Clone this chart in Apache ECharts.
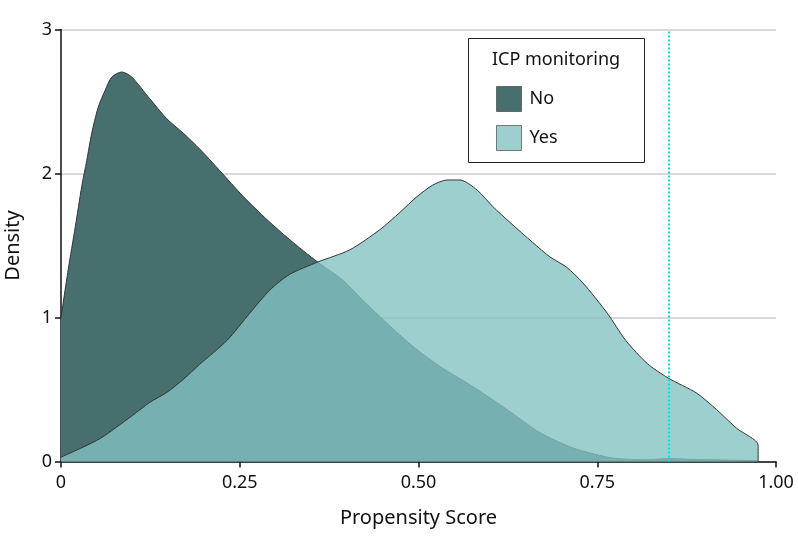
<!DOCTYPE html>
<html>
<head>
<meta charset="utf-8">
<script src="https://cdn.jsdelivr.net/npm/echarts@6/dist/echarts.min.js"></script>
<style>html,body{margin:0;padding:0;background:#fff}#c{width:798px;height:547px}</style>
</head>
<body>
<div id="c"></div>
<script>
var xTicks = [0, 0.25, 0.5, 0.75, 1.0];
var yTicks = [0, 1, 2, 3];
var seriesNames = ['No', 'Yes'];
var noX = [0, 0.01, 0.02, 0.029, 0.036, 0.043, 0.052, 0.062, 0.071, 0.085, 0.099, 0.124, 0.148, 0.171, 0.194, 0.222, 0.255, 0.288, 0.32, 0.359, 0.394, 0.422, 0.456, 0.492, 0.53, 0.576, 0.624, 0.67, 0.716, 0.764, 0.786, 0.82, 0.85, 0.88, 0.93, 0.975];
var noY = [1.0, 1.33, 1.63, 1.91, 2.09, 2.28, 2.46, 2.58, 2.67, 2.705, 2.67, 2.52, 2.38, 2.28, 2.17, 2.02, 1.84, 1.68, 1.54, 1.385, 1.26, 1.12, 0.96, 0.80, 0.66, 0.52, 0.36, 0.20, 0.094, 0.03, 0.017, 0.012, 0.02, 0.015, 0.01, 0.005];
var yesX = [0, 0.031, 0.055, 0.078, 0.10, 0.124, 0.148, 0.171, 0.194, 0.232, 0.264, 0.292, 0.32, 0.359, 0.404, 0.446, 0.474, 0.498, 0.52, 0.54, 0.558, 0.582, 0.604, 0.628, 0.66, 0.684, 0.707, 0.73, 0.764, 0.79, 0.82, 0.849, 0.889, 0.917, 0.945, 0.975, 0.975];
var yesY = [0.03, 0.10, 0.16, 0.24, 0.32, 0.41, 0.48, 0.57, 0.675, 0.84, 1.03, 1.19, 1.30, 1.385, 1.47, 1.61, 1.73, 1.84, 1.92, 1.955, 1.955, 1.885, 1.77, 1.66, 1.52, 1.42, 1.35, 1.24, 1.03, 0.84, 0.68, 0.58, 0.475, 0.36, 0.23, 0.115, 0];
var cutoff = 0.85;

function pairs(xs, ys) { return xs.map(function (x, i) { return [x, ys[i]]; }); }
var FONT = 'Noto Sans';
var chart = echarts.init(document.getElementById('c'), null, {renderer: 'canvas'});
chart.setOption({
  animation: false,
  grid: {left: 61, right: 22, top: 29.5, bottom: 85.5, outerBoundsMode: 'none', containLabel: false},
  xAxis: {
    type: 'value', min: xTicks[0], max: xTicks[xTicks.length - 1], interval: 0.25,
    name: 'Propensity Score', nameLocation: 'middle', nameGap: 47,
    nameTextStyle: {fontFamily: FONT, fontSize: 20, color: '#111'},
    axisLine: {show: true, lineStyle: {color: '#111', width: 1.5}},
    axisTick: {show: true, length: 6, lineStyle: {color: '#111', width: 1.5}},
    axisLabel: {fontFamily: FONT, fontSize: 18, color: '#111', margin: 12,
      formatter: function (v) { return v === 0 ? '0' : v.toFixed(2); }},
    splitLine: {show: false}
  },
  yAxis: {
    type: 'value', min: yTicks[0], max: yTicks[yTicks.length - 1], interval: 1,
    name: 'Density', nameLocation: 'middle', nameGap: 38, nameRotate: 90,
    nameTextStyle: {fontFamily: FONT, fontSize: 20, color: '#111'},
    axisLine: {show: true, lineStyle: {color: '#111', width: 1.5}},
    axisTick: {show: true, length: 6, lineStyle: {color: '#111', width: 1.5}},
    axisLabel: {fontFamily: FONT, fontSize: 18, color: '#111', margin: 9},
    splitLine: {show: true, lineStyle: {color: '#d9d9d9', width: 2}}
  },
  legend: {
    orient: 'vertical', left: 496, top: 86, padding: 0, itemWidth: 25, itemHeight: 25, itemGap: 13,
    icon: 'rect',
    textStyle: {fontFamily: FONT, fontSize: 18, color: '#111', padding: [0, 0, 0, 3]},
    data: [
      {name: seriesNames[0], itemStyle: {color: '#466f6e', borderColor: '#666', borderWidth: 1}},
      {name: seriesNames[1], itemStyle: {color: '#9dcfcf', borderColor: '#777', borderWidth: 1}}
    ]
  },
  graphic: [
    {type: 'rect', left: 468, top: 38, shape: {width: 176, height: 124},
      style: {fill: '#fff', stroke: '#222', lineWidth: 1}, z: 0},
    {type: 'text', x: 556, y: 60, style: {text: 'ICP monitoring', font: '18px "' + FONT + '"', fill: '#111', align: 'center', verticalAlign: 'middle'}, z: 10}
  ],
  series: [
    {name: seriesNames[0], type: 'line', data: pairs(noX, noY), smooth: 0.25, showSymbol: false, symbol: 'none',
      lineStyle: {color: '#333', width: 1}, itemStyle: {color: '#466f6e'},
      areaStyle: {color: '#466f6e', opacity: 1}, z: 2},
    {name: seriesNames[1], type: 'line', data: pairs(yesX, yesY), smooth: 0.25, showSymbol: false, symbol: 'none',
      lineStyle: {color: '#333', width: 1}, itemStyle: {color: '#9dcfcf'},
      areaStyle: {color: 'rgb(131,194,194)', opacity: 0.79}, z: 3,
      markLine: {silent: true, symbol: 'none', label: {show: false},
        lineStyle: {color: '#00e0ee', type: 'dotted', width: 2},
        data: [{xAxis: cutoff}]}}
  ]
});
</script>
</body>
</html>
